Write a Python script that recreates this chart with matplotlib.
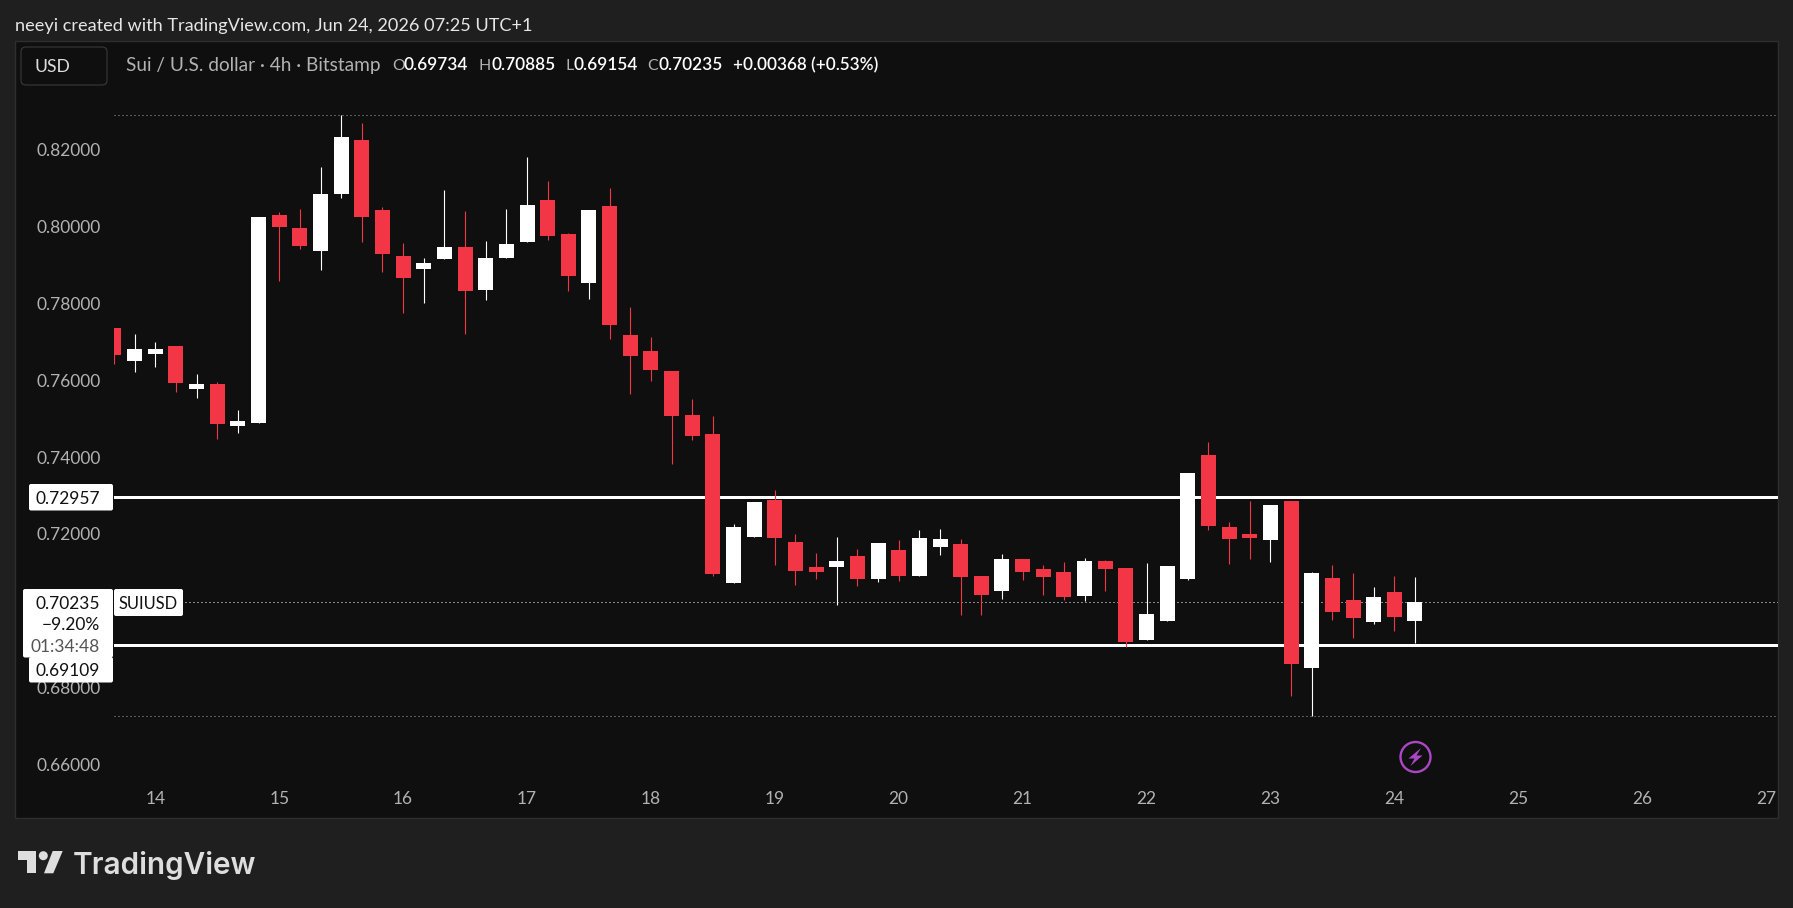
import matplotlib
matplotlib.use("Agg")
import matplotlib.pyplot as plt
from matplotlib.patches import Rectangle, FancyBboxPatch, Circle, Polygon

W, H = 1793, 908
DPI = 100

# SUI/USD 4h candles, Bitstamp
opens = [.77357,.76499,.76681,.76889,.75771,.75901,.74808,.74886,.80296,.79958,
         .79360,.80843,.82247,.80426,.79230,.78892,.79152,.79464,.78346,.79178,
         .79594,.80686,.79802,.78528,.80530,.77175,.76759,.76239,.75094,.74600,
         .70725,.71921,.72883,.71791,.71141,.71141,.71427,.70829,.71583,.70907,
         .71661,.71739,.70907,.70517,.71349,.71089,.71011,.70386,.71297,.71115,
         .69242,.69736,.70829,.74054,.72181,.71999,.71843,.72857,.68514,.70855,
         .70282,.69710,.70491,.69734]
highs = [.77357,.77201,.76993,.76889,.76161,.75953,.75224,.80244,.80374,.80452,
         .81545,.82897,.82689,.80504,.79568,.79178,.80947,.80400,.79620,.80452,
         .81805,.81181,.79828,.80426,.80999,.77903,.77123,.76239,.75511,.75068,
         .72259,.72831,.73144,.71999,.71505,.71921,.71609,.71765,.71843,.72103,
         .72129,.71869,.70907,.71479,.71349,.71193,.71271,.71375,.71323,.71115,
         .71245,.71167,.73586,.74392,.72311,.72857,.72754,.72857,.71011,.71193,
         .70985,.70621,.70907,.70885]
lows = [.76421,.76213,.76343,.75693,.75537,.74470,.74626,.74886,.78580,.79412,
        .78866,.80739,.79594,.78814,.77747,.78007,.79152,.77201,.78085,.79178,
        .79594,.79646,.78320,.78112,.77071,.75641,.75979,.73820,.74444,.70907,
        .70725,.71921,.71193,.70673,.70829,.70152,.70647,.70751,.70777,.70907,
        .71453,.69892,.69892,.70308,.70803,.70413,.70282,.70256,.70517,.69060,
        .69242,.69736,.70803,.72103,.71219,.71349,.71271,.67786,.67265,.69762,
        .69294,.69658,.69476,.69154]
closes = [.76655,.76811,.76811,.75927,.75901,.74860,.74938,.80244,.79984,.79490,
          .80843,.82325,.80244,.79282,.78658,.79048,.79464,.78320,.79178,.79542,
          .80556,.79750,.78710,.80426,.77435,.76629,.76265,.75068,.74548,.70959,
          .72181,.72831,.71895,.71037,.71011,.71297,.70829,.71765,.70907,.71895,
          .71869,.70881,.70413,.71349,.71011,.70881,.70361,.71297,.71089,.69190,
          .69918,.71167,.73586,.72207,.71869,.71895,.72754,.68618,.70985,.69970,
          .69814,.70361,.69840,.70235]

price_ticks = [0.82, 0.80, 0.78, 0.76, 0.74, 0.72, 0.68, 0.66]
day_labels = ["14","15","16","17","18","19","20","21","22","23","24","25","26","27"]
day_index = [2 + 6 * k for k in range(len(day_labels))]

level_upper = 0.72957
level_lower = 0.69109
last_price = 0.70235
range_high = 0.82897
range_low = 0.67265

BG = "#1f1f1f"
PANEL = "#0f0f0f"
EDGE = "#2e2e2e"
RED = "#f23645"
WHITE = "#ffffff"
GREY = "#b2b2b2"
FONT = ["Lato", "DejaVu Sans"]
PURPLE = "#ab47c6"

fig = plt.figure(figsize=(W / DPI, H / DPI), dpi=DPI, facecolor=BG)

# Full-figure overlay in pixel units for the chrome around the plot
chrome = fig.add_axes([0, 0, 1, 1], zorder=0)
chrome.set_xlim(0, W)
chrome.set_ylim(H, 0)
chrome.axis("off")
chrome.add_patch(Rectangle((15, 41), 1763, 777, fc=PANEL, ec=EDGE, lw=1.0))

# Price/time plot area; STEP and PX_PER_UNIT map index and price onto pixels
AX_L, AX_R, AX_T, AX_B = 114, 1778, 42, 817
STEP = 123.9 / 6
PX_PER_UNIT = 3845
ax = fig.add_axes([AX_L / W, 1 - AX_B / H, (AX_R - AX_L) / W, (AX_B - AX_T) / H], zorder=1)
ax.patch.set_alpha(0)
ax.set_xlim(0, (AX_R - 114.0) / STEP)
ax.set_ylim(0.82 - (AX_B - 149.5) / PX_PER_UNIT, 0.82 - (AX_T - 149.5) / PX_PER_UNIT)
ax.axis("off")

def dotted(y, color, x0=0.0, lw=0.72):
    ax.plot([x0, ax.get_xlim()[1]], [y, y], color=color, lw=lw,
            dashes=(1, 3), zorder=1, dash_capstyle="butt")

dotted(range_high, "#a8a8a8")
dotted(range_low, "#a8a8a8")
dotted(last_price, "#ffffff", x0=(185 - 114) / STEP)
for lvl in (level_upper, level_lower):
    ax.axhline(lvl, color=WHITE, lw=2.16, zorder=2)

for i, (o, h, l, c) in enumerate(zip(opens, highs, lows, closes)):
    col = WHITE if c >= o else RED
    ax.vlines(i, l, h, color=col, lw=0.8, zorder=3)
    ax.bar(i, abs(c - o), bottom=min(o, c), width=15 / STEP, color=col, lw=0, zorder=4)

# Price scale on the left, date scale along the bottom
def price_y(p):
    return 149.5 + (0.82 - p) * PX_PER_UNIT

def idx_x(i):
    return 114.0 + i * STEP

TICK_SIZE = 12.5
for p in price_ticks:
    chrome.text(100.5, price_y(p), f"{p:.5f}", color=GREY, fontsize=TICK_SIZE, family=FONT,
                ha="right", va="center_baseline", zorder=2)
for i, lab in zip(day_index, day_labels):
    chrome.text(idx_x(i), 798, lab, color=GREY, fontsize=TICK_SIZE, family=FONT,
                ha="center", va="center_baseline", zorder=2)

# Header strip
chrome.text(15, 24, "neeyi created with TradingView.com, Jun 24, 2026 07:25 UTC+1",
            color="#e6e6e6", fontsize=13.05, family=FONT, ha="left", va="center_baseline")
chrome.add_patch(FancyBboxPatch((21, 47), 86, 38, boxstyle="round,pad=0,rounding_size=5",
                                fc=PANEL, ec="#3a3a3a", lw=0.8))
chrome.text(35, 65.5, "USD", color="#dddddd", fontsize=12.6, family=FONT,
            ha="left", va="center_baseline")

legend_parts = [
    (125.7, "Sui / U.S. dollar · 4h · Bitstamp", GREY, 13.7),
    (392, "O", GREY, 11.4), (404, "0.69734", WHITE, 12.4),
    (479, "H", GREY, 11.4), (491, "0.70885", WHITE, 12.4),
    (565.5, "L", GREY, 11.4), (574, "0.69154", WHITE, 12.4),
    (647.5, "C", GREY, 11.4), (658.5, "0.70235", WHITE, 12.4),
    (733, "+0.00368 (+0.53%)", WHITE, 12.35),
]
for x, s, col, size in legend_parts:
    chrome.text(x, 64, s, color=col, fontsize=size, family=FONT, ha="left", va="center_baseline",
                fontweight="semibold" if col == WHITE else "normal")

# Price tags on the scale
def tag(x0, y0, x1, y1):
    chrome.add_patch(FancyBboxPatch((x0, y0), x1 - x0, y1 - y0,
                                    boxstyle="round,pad=0,rounding_size=2",
                                    fc=WHITE, ec="none", zorder=5))

tag(23, 589, 113, 657.5)
tag(29, 484, 113, 510.5)
tag(29, 657, 113, 682.5)
tag(114, 589, 183, 616)
for y, s, col in [(497.3, "0.72957", "#111111"), (602.5, "0.70235", "#111111"),
                  (624, "−9.20%", "#111111"), (645, "01:34:48", "#555555"),
                  (669.5, "0.69109", "#111111")]:
    chrome.text(100, y, s, color=col, fontsize=TICK_SIZE, family=FONT, ha="right",
                va="center_baseline", zorder=6)
chrome.text(148.5, 602.5, "SUIUSD", color="#111111", fontsize=11.9, family=FONT,
            ha="center", va="center_baseline", zorder=6)

# Lightning marker
chrome.add_patch(Circle((1415.5, 757), 15, fc=PANEL, ec=PURPLE, lw=1.7, zorder=2))
chrome.add_patch(Polygon([(1421, 748), (1408.5, 758.5), (1414.5, 758.5), (1410.5, 766),
                          (1422.5, 755.5), (1416.5, 755.5)], closed=True,
                         fc=PURPLE, ec="none", zorder=3))

# TradingView mark and wordmark
LOGO = "#dedede"
chrome.add_patch(Polygon([(18, 851), (36, 851), (36, 873.3), (26.7, 873.3), (26.7, 860), (18, 860)],
                         closed=True, fc=LOGO, ec="none"))
chrome.add_patch(Circle((43.3, 855.7), 4.5, fc=LOGO, ec="none"))
chrome.add_patch(Polygon([(52.7, 851), (62.7, 851), (53.3, 873.3), (44, 873.3)],
                         closed=True, fc=LOGO, ec="none"))
chrome.text(73, 862.5, "TradingView", color=LOGO, fontsize=21.4, family=["Inter", "DejaVu Sans"],
            fontweight="semibold", ha="left", va="center_baseline")

fig.savefig("out.png", dpi=DPI, facecolor=BG)
